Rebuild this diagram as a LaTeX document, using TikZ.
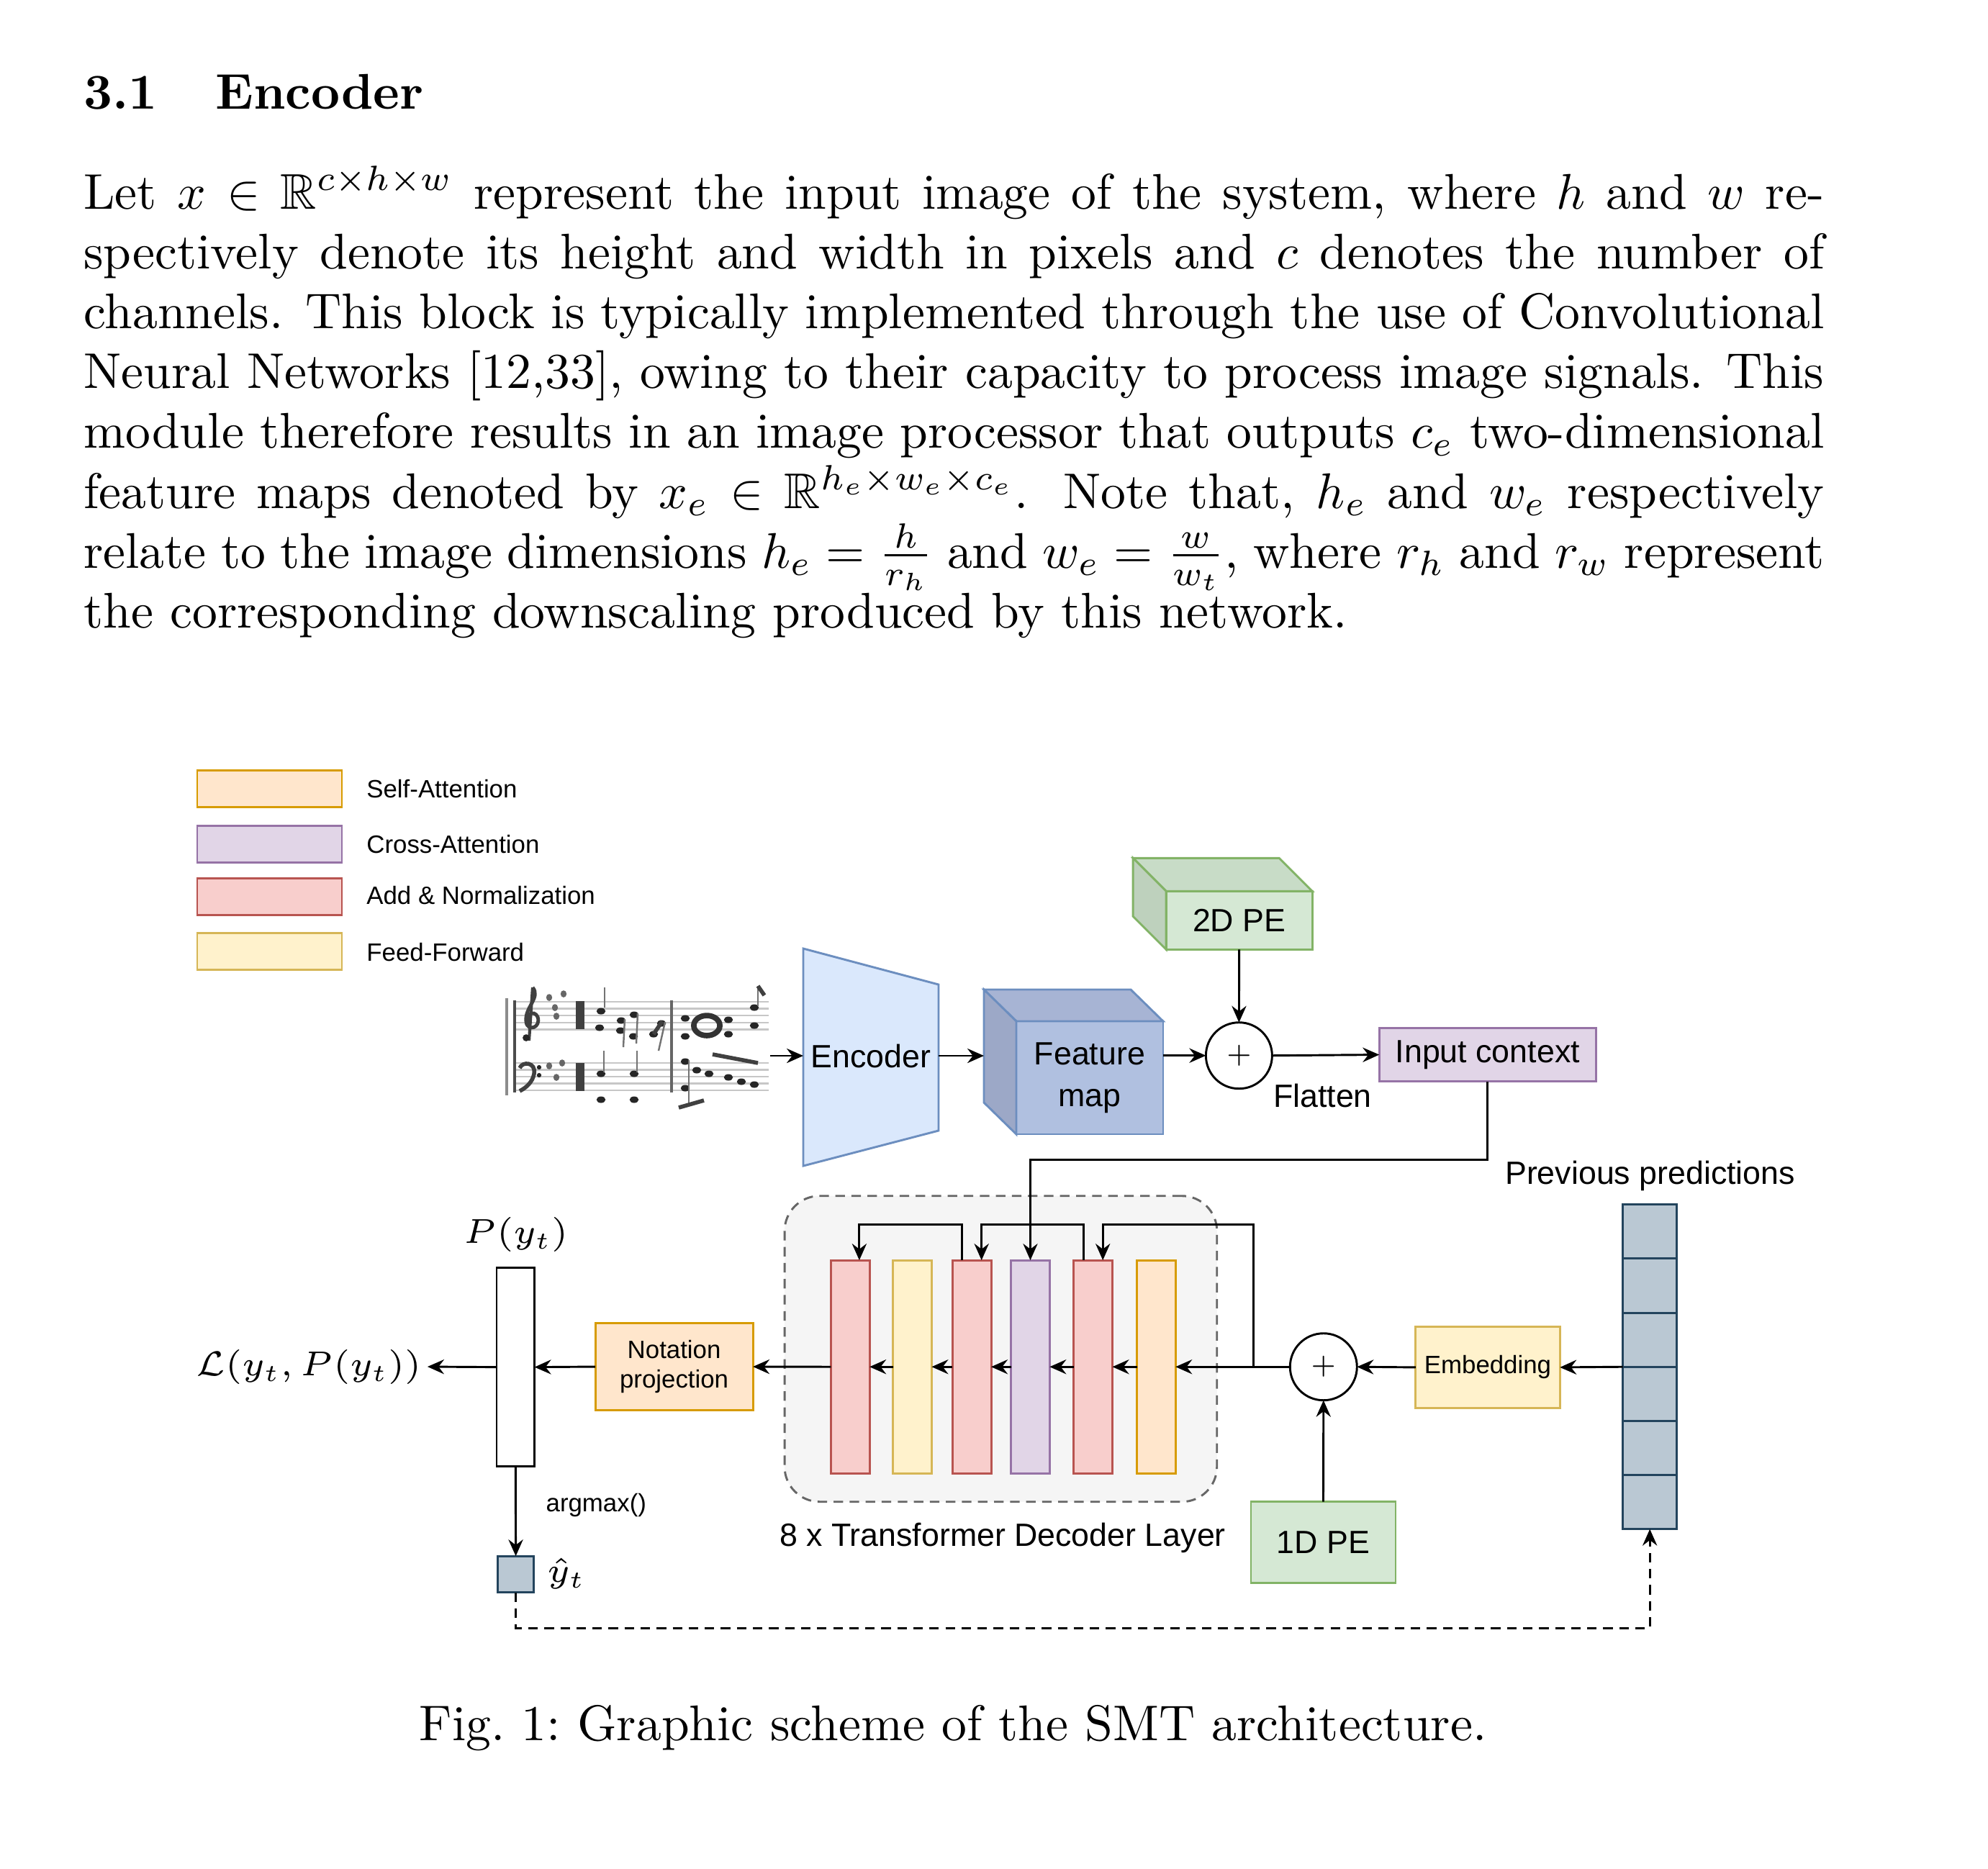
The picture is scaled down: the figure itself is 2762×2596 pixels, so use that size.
\RequirePackage{fix-cm}
\documentclass[tikz,border=0pt]{standalone}
\usepackage{amssymb}
\usepackage{fontspec}
\newfontfamily\arial{Liberation Sans}
\usetikzlibrary{arrows.meta,calc}
\definecolor{saF}{HTML}{FFE6CC}\definecolor{saD}{HTML}{D79B00}
\definecolor{caF}{HTML}{E1D5E7}\definecolor{caD}{HTML}{9673A6}
\definecolor{anF}{HTML}{F8CECC}\definecolor{anD}{HTML}{B85450}
\definecolor{ffF}{HTML}{FFF2CC}\definecolor{ffD}{HTML}{D6B656}
\definecolor{enF}{HTML}{DAE8FC}\definecolor{enD}{HTML}{6C8EBF}
\definecolor{fmF}{HTML}{B0C0E0}\definecolor{fmT}{HTML}{A7B4D4}\definecolor{fmL}{HTML}{9CA8C7}
\definecolor{peF}{HTML}{D5E8D4}\definecolor{peT}{HTML}{C8DCC7}\definecolor{peL}{HTML}{BED1BD}\definecolor{peD}{HTML}{82B366}
\definecolor{dcF}{HTML}{F5F5F5}\definecolor{dcD}{HTML}{666666}
\definecolor{tkF}{HTML}{BAC8D3}\definecolor{tkD}{HTML}{23445D}
\begin{document}
\begin{tikzpicture}[x=0.14356pt,y=-0.14356pt,
  lw/.style={line width=0.42pt},
  wh/.style 2 args={minimum width=#1*0.14356pt,minimum height=#2*0.14356pt},
  box/.style={draw,lw,inner sep=0pt,outer sep=0pt},
  arr/.style={lw,-{Stealth[length=3.3pt,width=2.9pt,inset=1.1pt]}},
  big/.style={font=\arial\fontsize{6.42}{8.3}\selectfont},
  small/.style={font=\arial\fontsize{5}{5.96}\selectfont},
  mth/.style={font=\fontsize{6.9}{8}\selectfont},
  body/.style={font=\fontsize{10}{12}\selectfont, inner sep=0pt, anchor=base west},
  note/.style={black!85},
]
\useasboundingbox (0,0) rectangle (2762,2596);
\fill[white] (0,0) rectangle (2762,2596);

% ---------- heading and paragraph ----------
\node[body,font=\fontsize{10}{12}\selectfont\bfseries] (secnum) at (115,151) {3.1};
\node[body,font=\fontsize{10}{12}\selectfont\bfseries] (sectitle) at (298,151) {Encoder};
\node[body] (l1) at (115,290) {\makebox[347.12pt][s]{Let $x \in \mathbb{R}^{c\times h\times w}$ represent the input image of the system, where $h$ and $w$ re-}};
\node[body] (l2) at (115,373.2) {\makebox[347.12pt][s]{spectively denote its height and width in pixels and $c$ denotes the number of}};
\node[body] (l3) at (115,456.4) {\makebox[347.12pt][s]{channels. This block is typically implemented through the use of Convolutional}};
\node[body] (l4) at (115,539.6) {\makebox[347.12pt][s]{Neural Networks [12,33], owing to their capacity to process image signals. This}};
\node[body] (l5) at (115,622.8) {\makebox[347.12pt][s]{module therefore results in an image processor that outputs $c_e$ two-dimensional}};
\node[body] (l6) at (115,706) {\makebox[347.12pt][s]{feature maps denoted by $x_e \in \mathbb{R}^{h_e\times w_e\times c_e}$. Note that, $h_e$ and $w_e$ respectively}};
\node[body] (l7) at (115,789.2) {\makebox[347.12pt][s]{relate to the image dimensions $h_e = \frac{h}{r_h}$ and $w_e = \frac{w}{w_t}$, where $r_h$ and $r_w$ represent}};
\node[body] (l8) at (115,872.4) {the corresponding downscaling produced by this network.};

% ---------- caption ----------
\node[font=\fontsize{10}{12}\selectfont, anchor=base, inner sep=0pt] (cap) at (1324,2418) {Fig.\ 1:\ Graphic scheme of the SMT architecture.};

% ---------- legend ----------
\node[box,wh={201}{51},fill=saF,draw=saD] (lg1) at (374.5,1095.7) {};
\node[box,wh={201}{51},fill=caF,draw=caD] (lg2) at (374.5,1173.4) {};
\node[box,wh={201}{51},fill=anF,draw=anD] (lg3) at (374.5,1246.3) {};
\node[box,wh={201}{51},fill=ffF,draw=ffD] (lg4) at (374.5,1322.4) {};
\node[small,anchor=west,inner sep=0pt] (lt1) at (508,1095.8) {Self-Attention};
\node[small,anchor=west,inner sep=0pt] (lt2) at (508,1173.5) {Cross-Attention};
\node[small,anchor=west,inner sep=0pt] (lt3) at (508,1244.3) {Add \& Normalization};
\node[small,anchor=west,inner sep=0pt] (lt4) at (508,1322.8) {Feed-Forward};

% ---------- music score ----------
\node[inner sep=0pt,outer sep=0pt,wh={373}{215}] (score) at (883.5,1458.5) {};
\foreach \yy in {1392,1401.6,1411.2,1420.8,1430.4,1476.7,1486.3,1495.9,1505.5,1515.1}
  \draw[line width=0.35pt, black!22] (716,\yy) -- (1068,\yy);
\draw[line width=0.5pt, black!45] (704,1387) -- (704,1522);
\draw[line width=0.6pt, black!70] (715,1390) -- (715,1518);
\draw[line width=0.5pt, black!60] (933,1390) -- (933,1518);
% treble clef
\draw[line width=0.7pt, black!75] (740,1372) .. controls (752,1386) and (728,1400) .. (731,1420) .. controls (733,1434) and (752,1428) .. (747,1413) .. controls (742,1402) and (728,1410) .. (737,1423);
\draw[line width=0.6pt, black!75] (740,1372) -- (735,1446);
\fill[note] (731,1442) circle[radius=0.7pt];
% bass clef
\draw[line width=0.8pt, black!75] (722,1484) .. controls (726,1474) and (745,1476) .. (742,1492) .. controls (740,1504) and (730,1512) .. (722,1516);
\fill[note] (749,1483) circle[radius=0.45pt];
\fill[note] (749,1494) circle[radius=0.45pt];
% key signatures
\foreach \p in {(763,1386),(783,1381),(771,1400),(773,1412),(763,1481),(781,1477),(773,1497)}
  \fill[black!60] \p ellipse[x radius=0.6pt,y radius=0.7pt];
% time signatures
\fill[black!75] (800,1391) rectangle (812,1430);
\fill[black!75] (800,1477) rectangle (812,1516);
% notes
\foreach \p in {(835,1405),(833,1428),(863,1418),(862,1432),(881,1410),(880,1440),(919,1422),(908,1437),
  (952,1415),(952,1440),(1012,1417),(1012,1437),(1048,1400),(1048,1425),
  (835,1492),(835,1528),(881,1492),(881,1528),(952,1475),(968,1487),(985,1492),(1012,1497),(1030,1503),(1048,1507),(952,1512)}
  \fill[note] \p ellipse[x radius=0.9pt,y radius=0.65pt];
\draw[line width=1.1pt, black!80] (982,1425) ellipse[x radius=2.6pt,y radius=2pt];
\foreach \a/\b in {{(840,1400)}/{(840,1372)},{(868,1416)}/{(866,1455)},{(886,1408)}/{(884,1450)},{(924,1420)}/{(915,1460)},{(1053,1398)}/{(1053,1370)},{(839,1490)}/{(839,1460)},{(885,1490)}/{(885,1460)},{(957,1473)}/{(957,1535)}}
  \draw[line width=0.35pt, black!55] \a -- \b;
\draw[line width=0.8pt, black!75] (1053,1370) -- (1062,1383);
\draw[line width=0.8pt, black!75] (990,1465) -- (1053,1477);
\draw[line width=0.8pt, black!75] (943,1539) -- (978,1529);
\draw[line width=0.8pt, black!75] (908,1437) -- (920,1419);

% ---------- encoder / feature map ----------
\fill[enF] (1116,1318) -- (1304,1368) -- (1304,1571) -- (1116,1620) -- cycle;
\draw[lw,enD] (1116,1318) -- (1304,1368) -- (1304,1571) -- (1116,1620) -- cycle;
\node[big,inner sep=0pt,outer sep=0pt,wh={188}{150}] (enc) at (1210,1467) {Encoder};

\node[box,wh={204}{157},fill=fmF,draw=enD,big,align=center] (fmap) at (1514,1497.5) {Feature\\map};
\draw[lw,draw=enD,fill=fmT] (fmap.north west) -- ++(-45,-44) -- ($(fmap.north east)+(-45,-44)$) -- (fmap.north east) -- cycle;
\draw[lw,draw=enD,fill=fmL] (fmap.north west) -- ++(-45,-44) -- ($(fmap.south west)+(-45,-44)$) -- (fmap.south west) -- cycle;

\node[box,wh={203}{81},fill=peF,draw=peD,big] (pe2) at (1721.7,1278.8) {2D PE};
\draw[lw,draw=peD,fill=peT] (pe2.north west) -- ++(-46,-46) -- ($(pe2.north east)+(-46,-46)$) -- (pe2.north east) -- cycle;
\draw[lw,draw=peD,fill=peL] (pe2.north west) -- ++(-46,-46) -- ($(pe2.south west)+(-46,-46)$) -- (pe2.south west) -- cycle;

\node[draw,lw,circle,fill=white,inner sep=0pt,outer sep=0pt,wh={92}{92},font=\fontsize{5}{6}\selectfont] (plus1) at (1721.4,1466.7) {$+$};
\node[box,wh={301}{74.4},fill=caF,draw=caD,big] (ictx) at (2066.8,1465.5) {Input context};
\node[big,inner sep=0pt] (flat) at (1837.5,1522.7) {Flatten};

\draw[arr] (score.east |- enc.west) -- (enc.west);
\draw[arr] (enc.east) -- ($(fmap.west |- enc.east)+(-45,0)$);
\draw[arr] (fmap.east |- plus1.west) -- (plus1.west);
\draw[arr] (pe2.south) -- (plus1.north);
\draw[arr] (plus1.east) -- (ictx.west);

% ---------- decoder ----------
\node[draw=dcD,fill=dcF,lw,dash pattern=on 1.9pt off 1.3pt,rounded corners=7pt,inner sep=0pt,outer sep=0pt,wh={600.7}{425}] (dec) at (1390.4,1874.2) {};
\node[box,wh={53.7}{296.3},fill=anF,draw=anD] (n1) at (1181.3,1899.2) {};
\node[box,wh={53.7}{296.3},fill=ffF,draw=ffD] (ff) at (1267.6,1899.2) {};
\node[box,wh={53.7}{296.3},fill=anF,draw=anD] (n2) at (1350.2,1899.2) {};
\node[box,wh={53.7}{296.3},fill=caF,draw=caD] (ca) at (1431.5,1899.2) {};
\node[box,wh={53.7}{296.3},fill=anF,draw=anD] (n3) at (1518.7,1899.2) {};
\node[box,wh={53.7}{296.3},fill=saF,draw=saD] (sa) at (1606.4,1899.2) {};
\node[big,inner sep=0pt] (declbl) at (1393,2137) {8 x Transformer Decoder Layer};

\node[draw,lw,circle,fill=white,inner sep=0pt,outer sep=0pt,wh={93}{93},font=\fontsize{5}{6}\selectfont] (plus2) at (1838.8,1899.2) {$+$};
\node[box,wh={200.5}{113},fill=ffF,draw=ffD,small] (emb) at (2067,1899.9) {Embedding};
\node[box,wh={201}{113},fill=peF,draw=peD,big] (pe1) at (1838.5,2143.2) {1D PE};
\node[box,wh={75.3}{450.9},fill=tkF,draw=tkD] (prev) at (2292.2,1899.2) {};
\foreach \i in {1,...,5}
  \draw[lw,tkD] ($(prev.north west)+(0,75.15*\i)$) -- ($(prev.north east)+(0,75.15*\i)$);
\node[big,inner sep=0pt] (prevlbl) at (2292.6,1633.6) {Previous predictions};

\node[box,wh={219}{120.6},fill=saF,draw=saD,small,align=center] (np) at (936.6,1899) {Notation\\projection};
\node[box,wh={52.6}{276},fill=white] (out) at (716.3,1899.6) {};
\node[mth,inner sep=1pt] (pyt) at (717.2,1715.4) {$P(y_t)$};
\node[mth,inner sep=1pt] (loss) at (429,1899) {$\mathcal{L}(y_t, P(y_t))$};
\node[box,wh={50}{50.6},fill=tkF,draw=tkD] (yh) at (716.6,2187.5) {};
\node[mth,inner sep=0pt] (yhl) at (787,2186) {$\hat{y}_t$};
\node[small,inner sep=0pt] (amax) at (828.3,2091) {argmax()};

\coordinate (jC) at (1741.6,1899.2);
% main data path
\draw[arr] (plus2.west) -- (sa.east);
\draw[arr] (sa.west) -- (n3.east);
\draw[arr] (n3.west) -- (ca.east);
\draw[arr] (ca.west) -- (n2.east);
\draw[arr] (n2.west) -- (ff.east);
\draw[arr] (ff.west) -- (n1.east);
\draw[arr] (n1.west) -- (np.east);
\draw[arr] (np.west) -- (out.east);
\draw[arr] (out.west) -- (loss.east);
\draw[arr] (out.south) -- (yh.north);
% residual connections
\draw[arr] (jC) -- ++(0,-197.5) -| ($(n3.north)+(13.5,0)$);
\draw[arr] ($(n3.north)+(-13.5,0)$) -- ++(0,-49.3) -| ($(n2.north)+(13.5,0)$);
\draw[arr] ($(n2.north)+(-13.5,0)$) -- ++(0,-49.3) -| ($(n1.north)+(12.6,0)$);
% encoder context into cross-attention
\draw[arr] (ictx.south) -- ++(0,109) -| (ca.north);
% embedding path
\draw[arr] (prev.west) -- (emb.east);
\draw[arr] (emb.west) -- (plus2.east);
\draw[arr] (pe1.north) -- (plus2.south);
% feedback
\draw[arr,dash pattern=on 1.9pt off 1.3pt] (yh.south) -- ++(0,49.5) -| (prev.south);
\end{tikzpicture}
\end{document}
